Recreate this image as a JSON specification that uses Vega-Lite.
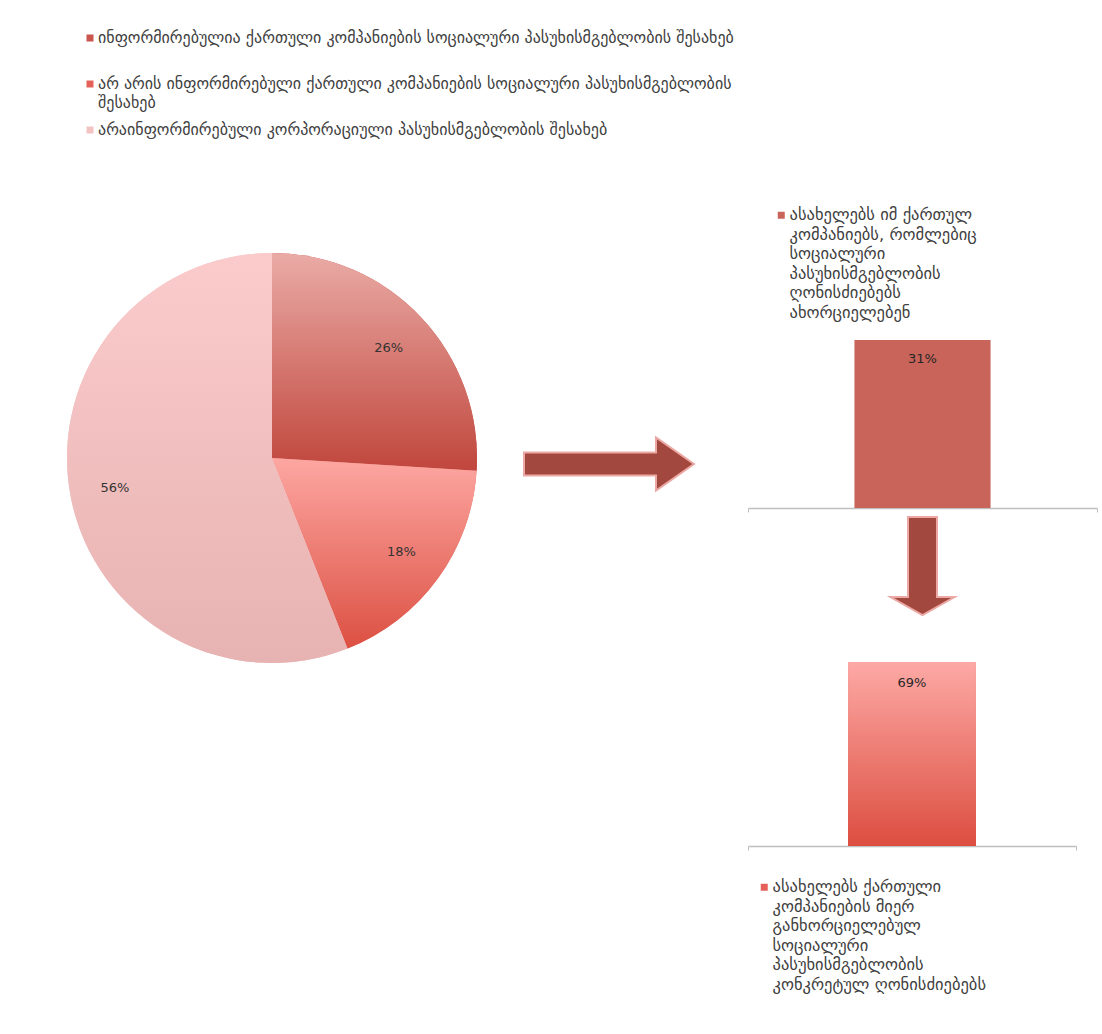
{
  "$schema": "https://vega.github.io/schema/vega-lite/v6.json",
  "background": "white",
  "padding": {"left": 67, "top": 30, "right": 5, "bottom": 5},
  "config": {
    "view": {"stroke": null},
    "font": "DejaVu Sans",
    "legend": {"symbolType": "square", "labelColor": "#404040", "labelFont": "DejaVu Sans", "labelLimit": 2000, "labelOffset": 0}
  },
  "bounds": "flush",
  "spacing": 0,
  "resolve": {"scale": {"color": "independent"}, "legend": {"color": "independent"}},
  "hconcat": [
    {
      "width": 396,
      "height": 236,
      "data": {"values": [
        {"group": "ინფორმირებულია ქართული კომპანიების სოციალური პასუხისმგებლობის შესახებ", "share": 0.26},
        {"group": "არ არის ინფორმირებული ქართული კომპანიების სოციალური პასუხისმგებლობის შესახებ", "share": 0.18},
        {"group": "არაინფორმირებული კორპორაციული პასუხისმგებლობის შესახებ", "share": 0.56}
      ]},
      "transform": [{"window": [{"op": "row_number", "as": "rank"}]}],
      "layer": [
        {
          "mark": {"type": "arc", "outerRadius": 205},
          "encoding": {
            "theta": {"field": "share", "type": "quantitative", "stack": true},
            "order": {"field": "rank", "type": "quantitative"},
            "color": {
              "field": "group", "type": "nominal", "sort": null,
              "scale": {"range": ["#C9554C", "#E4625A", "#F3C2C2"]},
              "legend": {
                "orient": "none", "legendX": 8, "legendY": -310, "title": null,
                "labelFontSize": 16, "symbolSize": 49, "rowPadding": 11, "gridAlign": "all",
                "labelExpr": "split(trim(replace(datum.label, regexp('(.{1,70})( |$)', 'g'), '$1\\n')), '\\n')",
                "encode": {"labels": {"update": {"lineHeight": {"value": 19}}}}
              }
            }
          }
        },
        {
          "mark": {"type": "arc", "outerRadius": 205},
          "encoding": {
            "theta": {"field": "share", "type": "quantitative", "stack": true},
            "order": {"field": "rank", "type": "quantitative"},
            "detail": {"field": "group", "type": "nominal"},
            "fill": {
              "condition": [
                {"test": "datum.rank === 1", "value": {"gradient": "linear", "x1": 0, "y1": 0, "x2": 0, "y2": 1, "stops": [{"offset": 0, "color": "#EAABA6"}, {"offset": 1, "color": "#C0463C"}]}},
                {"test": "datum.rank === 2", "value": {"gradient": "linear", "x1": 0, "y1": 0, "x2": 0, "y2": 1, "stops": [{"offset": 0, "color": "#FDA7A2"}, {"offset": 1, "color": "#DC5042"}]}}
              ],
              "value": {"gradient": "linear", "x1": 0, "y1": 0, "x2": 0, "y2": 1, "stops": [{"offset": 0, "color": "#FBCBCB"}, {"offset": 1, "color": "#E7B2B2"}]}
            }
          }
        },
        {
          "mark": {"type": "text", "radius": 160, "fontSize": 13, "color": "#333333"},
          "encoding": {
            "theta": {"field": "share", "type": "quantitative", "stack": true},
            "order": {"field": "rank", "type": "quantitative"},
            "detail": {"field": "group", "type": "nominal"},
            "text": {"field": "share", "type": "quantitative", "format": ".0%"}
          }
        }
      ]
    },
    {
      "width": 278,
      "height": 248,
      "data": {"values": [{"step": "გადასვლა"}]},
      "mark": {
        "type": "point", "filled": true, "size": 40000, "opacity": 1,
        "shape": "M-0.85,-0.115L0.47,-0.115L0.47,-0.265L0.85,0L0.47,0.265L0.47,0.115L-0.85,0.115Z",
        "fill": "#A3483F", "stroke": "#EBA8A4", "strokeWidth": 2
      },
      "encoding": {}
    },
    {
      "bounds": "flush",
      "spacing": 0,
      "resolve": {"scale": {"color": "independent"}, "legend": {"color": "independent"}},
      "vconcat": [
        {
          "width": 349,
          "height": 168,
          "data": {"values": [
            {"group": "ასახელებს იმ ქართულ კომპანიებს, რომლებიც სოციალური პასუხისმგებლობის ღონისძიებებს ახორციელებენ", "share": 0.31}
          ]},
          "layer": [
            {
              "mark": {"type": "bar", "width": {"band": 0.39}},
              "encoding": {
                "x": {"field": "group", "type": "nominal", "scale": {"padding": 0},
                  "axis": {"title": null, "labels": false, "domainColor": "#BFBFBF", "domainWidth": 1.5, "tickColor": "#BFBFBF", "tickSize": 4, "bandPosition": 1, "tickExtra": true}},
                "y": {"field": "share", "type": "quantitative", "scale": {"nice": false}, "axis": null},
                "color": {
                  "field": "group", "type": "nominal",
                  "scale": {"range": ["#C9645A"]},
                  "legend": {
                    "orient": "none", "legendX": 25, "legendY": -133, "title": null,
                    "labelFontSize": 16.5, "symbolSize": 49,
                    "labelExpr": "split(trim(replace(datum.label, regexp('(.{1,23})( |$)', 'g'), '$1\\n')), '\\n')",
                    "encode": {"labels": {"update": {"lineHeight": {"value": 19.5}}}}
                  }
                }
              }
            },
            {
              "mark": {"type": "text", "baseline": "middle", "dy": 19, "fontSize": 13, "color": "#262626"},
              "encoding": {
                "x": {"field": "group", "type": "nominal"},
                "y": {"field": "share", "type": "quantitative"},
                "text": {"field": "share", "type": "quantitative", "format": ".0%"}
              }
            }
          ]
        },
        {
          "width": 349,
          "height": 154,
          "data": {"values": [{"step": "დაზუსტება"}]},
          "mark": {
            "type": "point", "filled": true, "size": 40000, "opacity": 1,
            "shape": "M-0.145,-0.68L0.145,-0.68L0.145,0.12L0.32,0.12L0,0.30L-0.32,0.12L-0.145,0.12Z",
            "fill": "#A3483F", "stroke": "#EBA8A4", "strokeWidth": 2
          },
          "encoding": {}
        },
        {
          "width": 328,
          "height": 184,
          "data": {"values": [
            {"group": "ასახელებს ქართული კომპანიების მიერ განხორციელებულ სოციალური პასუხისმგებლობის კონკრეტულ ღონისძიებებს", "share": 0.69}
          ]},
          "layer": [
            {
              "mark": {"type": "bar", "width": {"band": 0.39}},
              "encoding": {
                "x": {"field": "group", "type": "nominal", "scale": {"padding": 0},
                  "axis": {"title": null, "labels": false, "domainColor": "#BFBFBF", "domainWidth": 1.5, "tickColor": "#BFBFBF", "tickSize": 4, "bandPosition": 1, "tickExtra": true}},
                "y": {"field": "share", "type": "quantitative", "scale": {"nice": false}, "axis": null},
                "color": {
                  "field": "group", "type": "nominal",
                  "scale": {"range": ["#E5605A"]},
                  "legend": {
                    "orient": "none", "legendX": 8, "legendY": 217, "title": null,
                    "labelFontSize": 16.5, "symbolSize": 49,
                    "labelExpr": "split(trim(replace(datum.label, regexp('(.{1,23})( |$)', 'g'), '$1\\n')), '\\n')",
                    "encode": {"labels": {"update": {"lineHeight": {"value": 19.5}}}}
                  }
                }
              }
            },
            {
              "mark": {"type": "bar", "width": {"band": 0.39},
                "fill": {"gradient": "linear", "x1": 0, "y1": 0, "x2": 0, "y2": 1, "stops": [{"offset": 0, "color": "#FDA9A5"}, {"offset": 1, "color": "#DC4E40"}]}},
              "encoding": {
                "x": {"field": "group", "type": "nominal"},
                "y": {"field": "share", "type": "quantitative"}
              }
            },
            {
              "mark": {"type": "text", "baseline": "middle", "dy": 21, "fontSize": 13, "color": "#262626"},
              "encoding": {
                "x": {"field": "group", "type": "nominal"},
                "y": {"field": "share", "type": "quantitative"},
                "text": {"field": "share", "type": "quantitative", "format": ".0%"}
              }
            }
          ]
        }
      ]
    }
  ]
}
